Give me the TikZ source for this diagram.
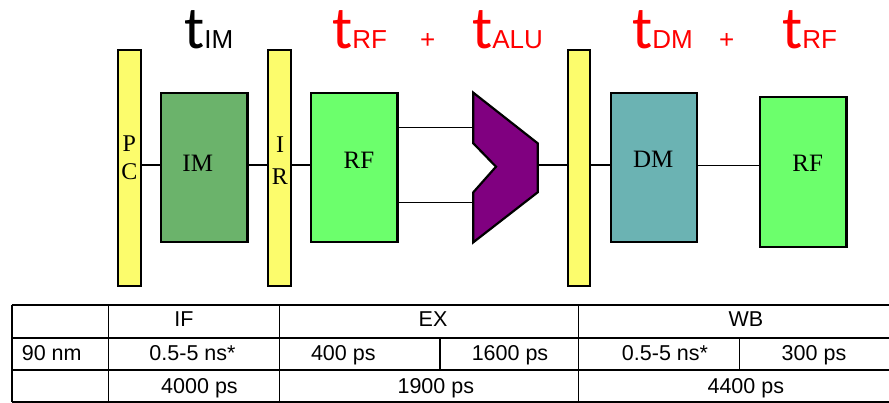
\documentclass[tikz,border=0pt]{standalone}
\usepackage{fontspec}
\setmainfont{Liberation Serif}
\newfontfamily\arial{Liberation Sans}
\newfontfamily\calib{Carlito}
\definecolor{regyellow}{HTML}{FCFC6C}
\definecolor{imgreen}{HTML}{6BB36B}
\definecolor{rfgreen}{HTML}{6CFF6C}
\definecolor{dmteal}{HTML}{6BB3B3}
\definecolor{alupurple}{HTML}{800080}
\newcommand{\ttitle}[1]{{\calib\fontsize{60}{62}\selectfont t}{\arial\fontsize{26}{30}\selectfont #1}}
\begin{document}
\begin{tikzpicture}[x=1pt,y=-1pt,line join=miter]
\useasboundingbox (0,0) rectangle (889,403);
\tikzset{
  reg/.style={draw=black,line width=2.2pt,fill=regyellow,minimum width=22.4pt,minimum height=235.7pt,inner sep=0pt},
  blk/.style={draw=black,line width=2.2pt,minimum width=86.5pt,minimum height=149.6pt,inner sep=0pt},
  boxtxt/.style={inner sep=0pt,font=\fontsize{25}{30}\selectfont},
  regtxt/.style={inner sep=0pt,font=\fontsize{24}{28}\selectfont},
  wire/.style={line width=1.6pt},
  ttl/.style={inner sep=0pt,anchor=base west},
  plus/.style={inner sep=0pt,anchor=base,font=\arial\fontsize{26}{30}\selectfont,text=red},
  tbl/.style={line width=1.6pt},
  cell/.style={inner sep=0pt,anchor=base,font=\arial\fontsize{21.5}{24}\selectfont}
}

% titles
\node[ttl] (tim) at (184,49) {\ttitle{IM}};
\node[ttl,text=red] (trf) at (332,49) {\ttitle{RF}};
\node[plus] (p1) at (427.7,49) {+};
\node[ttl,text=red] (talu) at (472,49) {\ttitle{ALU}};
\node[ttl,text=red] (tdm) at (632,49) {\ttitle{DM}};
\node[plus] (p2) at (726.7,49) {+};
\node[ttl,text=red] (trf2) at (782,49) {\ttitle{RF}};

% wire level
\coordinate (mid) at (0,165);

% pipeline registers
\node[reg] (pc) at (129.5,167.8) {};
\node[reg] (ir) at (279.5,167.8) {};
\node[reg] (exr) at (578.8,167.8) {};
\node[regtxt] (pct) at (129.3,144) {P};
\node[regtxt] (pcc) at (129.3,171.7) {C};
\node[regtxt] (iri) at (280,145) {I};
\node[regtxt] (irr) at (280,176.3) {R};

% blocks
\node[blk,fill=imgreen] (im) at (204.3,167.5) {};
\node[blk,fill=rfgreen] (rf) at (354.2,167.5) {};
\node[blk,fill=dmteal,minimum width=86pt] (dm) at (653.7,167.5) {};
\node[blk,fill=rfgreen,minimum height=150pt] (rf2) at (803.3,171.7) {};
\node[boxtxt] (imt) at (197.7,163.3) {IM};
\node[boxtxt] (rft) at (359,160.7) {RF};
\node[boxtxt] (dmt) at (653.3,159.3) {DM};
\node[boxtxt] (rf2t) at (807.7,163.3) {RF};

% ALU
\coordinate (aluin1) at (473.3,127.7);
\coordinate (aluin2) at (473.3,202.7);
\coordinate (aluout) at (537.7,165);
\draw[line width=2.2pt,fill=alupurple] (473.3,92.7) -- (537.7,143.3) -- (537.7,192.3) -- (473.3,242.3) -- (473.3,192.3) -- (496,166.7) -- (473.3,143.3) -- cycle;

% wires
\draw[wire] (pc.east |- mid) -- (im.west |- mid);
\draw[wire] (im.east |- mid) -- (ir.west |- mid);
\draw[wire] (ir.east |- mid) -- (rf.west |- mid);
\draw[wire] (rf.east |- aluin1) -- (aluin1);
\draw[wire] (rf.east |- aluin2) -- (aluin2);
\draw[wire] (aluout) -- (exr.west |- aluout);
\draw[wire] (exr.east |- mid) -- (dm.west |- mid);
\draw[wire] (dm.east |- 0,165.7) -- (rf2.west |- 0,165.7);

% table
\draw[tbl] (11.7,305) -- (889,305);
\draw[tbl] (11.7,338.3) -- (889,338.3);
\draw[tbl] (11.7,370) -- (889,370);
\draw[tbl] (11.7,401.7) -- (889,401.7);
\draw[tbl] (11.7,305) -- (11.7,401.7);
\draw[tbl] (108.3,305) -- (108.3,401.7);
\draw[tbl] (279.3,305) -- (279.3,401.7);
\draw[tbl] (578.3,305) -- (578.3,401.7);
\draw[tbl] (440,338.3) -- (440,370);
\draw[tbl] (739.3,338.3) -- (739.3,370);

\node[cell] (c11) at (184,326.7) {IF};
\node[cell] (c12) at (433,326.7) {EX};
\node[cell] (c13) at (746,326.7) {WB};
\node[cell] (c20) at (51.7,360) {90 nm};
\node[cell] (c21) at (192.5,360) {0.5-5 ns*};
\node[cell] (c22) at (343.3,360) {400 ps};
\node[cell] (c23) at (510,360) {1600 ps};
\node[cell] (c24) at (665,360) {0.5-5 ns*};
\node[cell] (c25) at (814,360) {300 ps};
\node[cell] (c31) at (199.5,393.3) {4000 ps};
\node[cell] (c32) at (435.8,393.3) {1900 ps};
\node[cell] (c33) at (745.8,393.3) {4400 ps};
\end{tikzpicture}
\end{document}
